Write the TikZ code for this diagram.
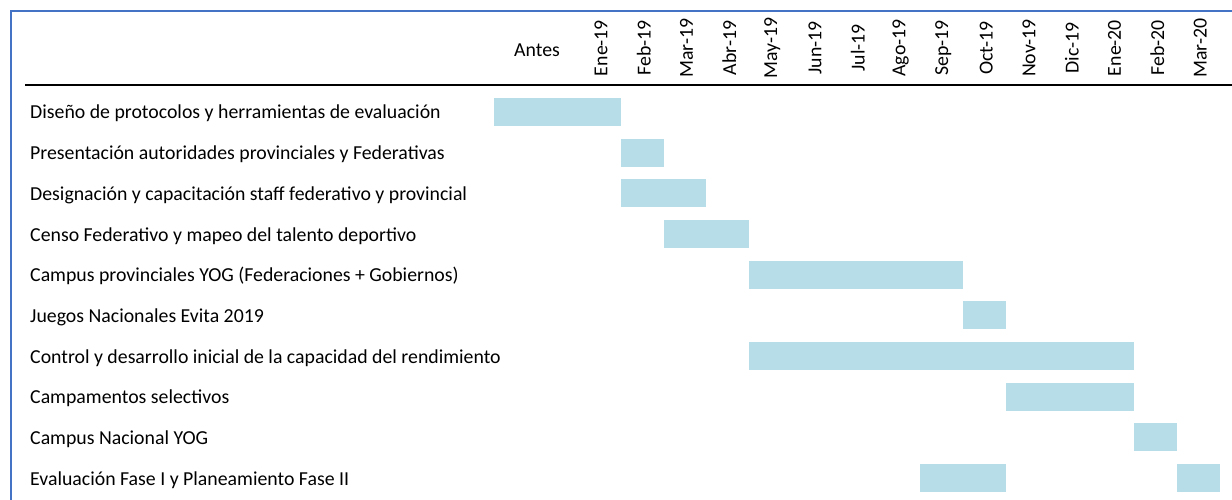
\documentclass[tikz,border=0pt]{standalone}
\usepackage{fontspec}
\setmainfont{Carlito}
\definecolor{barblue}{RGB}{183,221,232}
\definecolor{frameblue}{RGB}{68,114,196}
\begin{document}
\begin{tikzpicture}[x=1pt,y=-1pt,
  ganttbar/.style={fill=barblue,draw=none},
  task/.style={anchor=base west,inner sep=0pt,font=\fontsize{19.8}{22}\selectfont},
  month/.style={rotate=90,inner sep=0pt,font=\fontsize{19.8}{22}\selectfont},
  headline/.style={line width=2.2pt,black},
  frame/.style={line width=2pt,frameblue}]
\useasboundingbox (0,0) rectangle (1232,500);
\draw[frame] (10.5,520) -- (10.5,11.5) -- (1240,11.5);
\draw[headline] (25,85) -- (1232,85);
\node[task,anchor=base] (antes) at (537,57) {Antes};
\foreach \m [count=\i from 0] in {Ene-19,Feb-19,Mar-19,Abr-19,May-19,Jun-19,Jul-19,Ago-19,Sep-19,Oct-19,Nov-19,Dic-19,Ene-20,Feb-20,Mar-20}
  \node[month] (m\i) at ({578+42.8*\i+23},48) {\m};
\foreach \t [count=\r from 0] in {%
  {Diseño de protocolos y herramientas de evaluación},
  {Presentación autoridades provinciales y Federativas},
  {Designación y capacitación staff federativo y provincial},
  {Censo Federativo y mapeo del talento deportivo},
  {Campus provinciales YOG (Federaciones + Gobiernos)},
  {Juegos Nacionales Evita 2019},
  {Control y desarrollo inicial de la capacidad del rendimiento},
  {Campamentos selectivos},
  {Campus Nacional YOG},
  {Evaluación Fase I y Planeamiento Fase II}}
  \node[task] (t\r) at (30,{119+40.67*\r}) {\t};
% bars: row / start column / end column (column -2 = Antes)
\foreach \r/\a/\b in {0/-1.96/1,1/1/2,2/1/3,3/2/4,4/4/9,5/9/10,6/4/13,7/10/13,8/13/14,9/8/10,9/14/15}
  \fill[ganttbar] ({578+42.8*\a},{112+40.67*\r-14}) rectangle ({578+42.8*\b},{112+40.67*\r+14});
\end{tikzpicture}
\end{document}
